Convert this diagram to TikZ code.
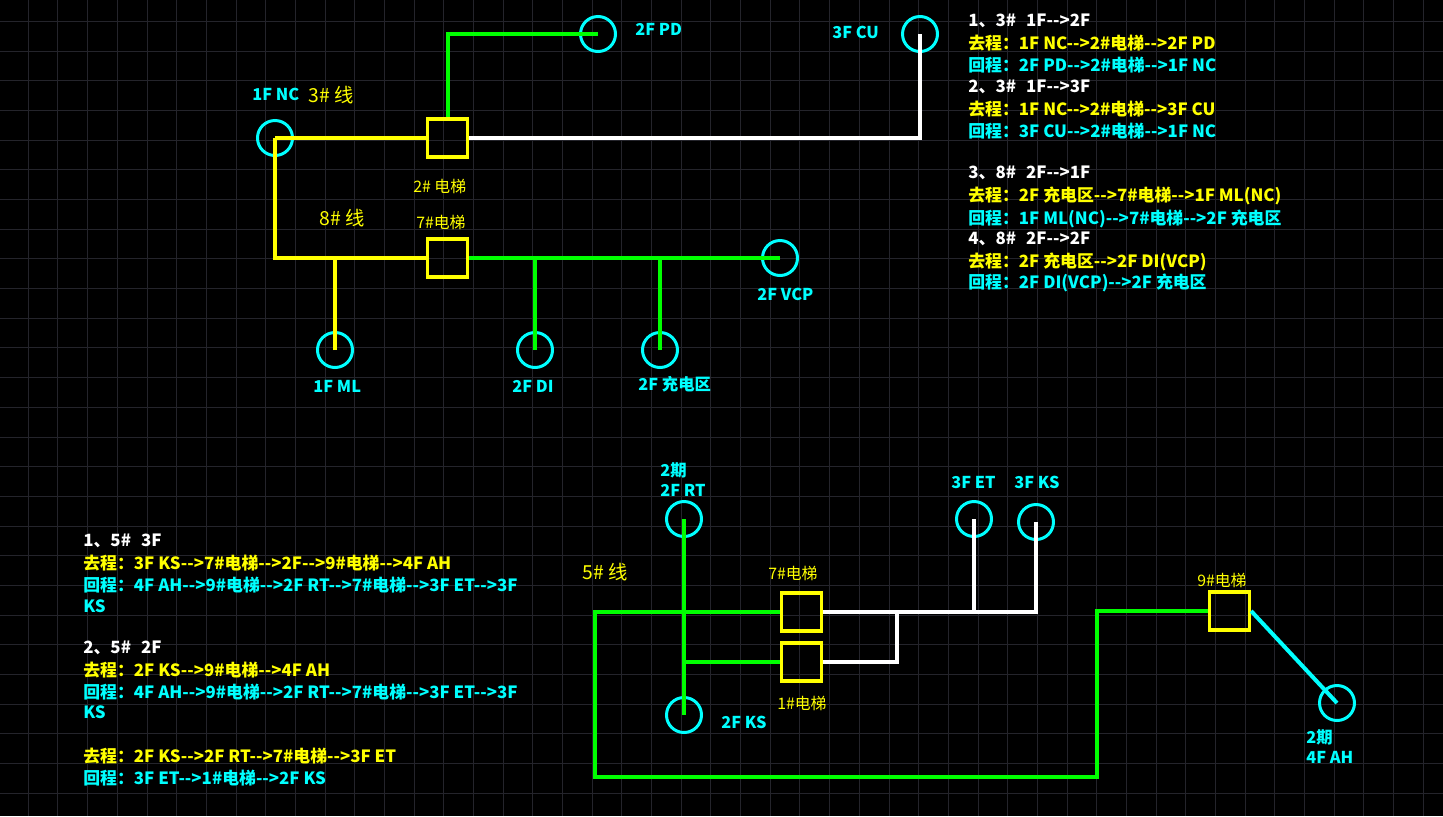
\documentclass[tikz,border=0pt]{standalone}
\usepackage{fontspec}
\setmainfont{Noto Sans CJK SC}
\usetikzlibrary{positioning, calc}
\definecolor{cyel}{HTML}{FFFF00}
\definecolor{ccyan}{HTML}{00FFFF}
\definecolor{cgreen}{HTML}{00FF00}
\definecolor{cwhite}{HTML}{FFFFFF}
\definecolor{cgrid}{HTML}{24242B}

\begin{document}
\begin{tikzpicture}[
    x=0.2mm, y=-0.2mm,
    station/.style={
        circle, draw=ccyan, line width=0.6mm, minimum size=7mm, inner sep=0pt
    },
    lift/.style={
        rectangle, draw=cyel, line width=0.65mm, minimum width=8mm,
        minimum height=7.6mm, inner sep=0pt
    },
    wire/.style={line width=0.8mm},
    tag/.style={font=\fontsize{9.3pt}{11pt}\selectfont\bfseries, text=ccyan,
        anchor=base west, inner sep=0pt},
    liftname/.style={font=\fontsize{9pt}{11pt}\selectfont, text=cyel,
        anchor=base west, inner sep=0pt},
    linename/.style={font=\fontsize{11pt}{13pt}\selectfont, text=cyel,
        anchor=base west, inner sep=0pt},
    route/.style={font=\fontsize{9.6pt}{11pt}\selectfont\bfseries,
        anchor=base west, inner sep=0pt}
]
\useasboundingbox (0,0) rectangle (1443,816);
\fill[black] (0,0) rectangle (1443,816);
\foreach \i in {0,...,47}
  \draw[cgrid, line width=0.2mm] ({28.3+29.68*\i},0) -- ({28.3+29.68*\i},816);
\foreach \j in {0,...,26}
  \draw[cgrid, line width=0.2mm] (0,{21.5+29.68*\j}) -- (1443,{21.5+29.68*\j});

% 3# / 8# lines
\node[station] (stnc)  at (275,138) {};
\node[station] (stpd)  at (598,34)  {};
\node[station] (stcu)  at (920,34)  {};
\node[station] (stvcp) at (780,258) {};
\node[station] (stml)  at (335,350) {};
\node[station] (stdi)  at (535,350) {};
\node[station] (stchg) at (660,350) {};
\node[lift] (lift2) at (447.5,138) {};
\node[lift] (lift7) at (447.5,258) {};

\draw[wire, cyel] (stnc.center) -- (lift2.west);
\draw[wire, cyel] (stnc.center) |- (lift7.west);
\draw[wire, cyel] (stml.center) -- (stml.center |- lift7.west);
\draw[wire, cgreen] (lift2.north) |- (stpd.center);
\draw[wire, cwhite] (lift2.east) -| (stcu.center);
\draw[wire, cgreen] (lift7.east) -- (stvcp.center);
\foreach \s in {stdi, stchg}
  \draw[wire, cgreen] (\s.center) -- (\s.center |- lift7.east);

\node[tag]      (tnc)  at (252,100) {1F NC};
\node[linename] (ln3)  at (308,102) {3\# 线};
\node[liftname] (tl2)  at (413,192) {2\# 电梯};
\node[linename] (ln8)  at (319,225) {8\# 线};
\node[liftname] (tl7)  at (416,228) {7\#电梯};
\node[tag]      (tpd)  at (635,35)  {2F PD};
\node[tag]      (tcu)  at (832,38)  {3F CU};
\node[tag]      (tvcp) at (757,300) {2F VCP};
\node[tag]      (tml)  at (313,392) {1F ML};
\node[tag]      (tdi)  at (512,392) {2F DI};
\node[tag]      (tchg) at (638,390) {2F 充电区};

% 5# line
\node[station] (strt)  at (684,519)  {};
\node[station] (stks2) at (684,715)  {};
\node[station] (stet)  at (974,519)  {};
\node[station] (stks3) at (1036,522) {};
\node[station] (stah)  at (1337,703) {};
\node[lift] (lift7b) at (801.5,612)  {};
\node[lift] (lift1)  at (801.5,662)  {};
\node[lift] (lift9)  at (1229.5,611) {};
\coordinate (loopl) at (595,777);
\coordinate (loopr) at (1097,777);
\coordinate (wjoin) at (897,612);

\draw[wire, cgreen] (strt.center) -- (stks2.center);
\draw[wire, cgreen] (lift7b.west) -| (loopl) -- (loopr) |- (lift9.west);
\draw[wire, cgreen] (strt.center |- lift1.west) -- (lift1.west);
\draw[wire, cwhite] (lift7b.east) -| (stks3.center);
\draw[wire, cwhite] (stet.center) -- (stet.center |- lift7b.east);
\draw[wire, cwhite] (lift1.east) -| (wjoin);
\draw[wire, ccyan] (lift9.east) -- (stah.center);

\node[tag]      (trt1) at (660,476)  {2期};
\node[tag]      (trt2) at (660,496)  {2F RT};
\node[linename] (ln5)  at (582,579)  {5\# 线};
\node[liftname] (tl7b) at (768,579)  {7\#电梯};
\node[liftname] (tl1)  at (777,709)  {1\#电梯};
\node[tag]      (tks2) at (721,728)  {2F KS};
\node[tag]      (tet)  at (951,488)  {3F ET};
\node[tag]      (tks3) at (1014,488) {3F KS};
\node[liftname] (tl9)  at (1197,586) {9\#电梯};
\node[tag]      (tah1) at (1306,743) {2期};
\node[tag]      (tah2) at (1306,763) {4F AH};

% route notes
\foreach \yb/\cl/\tx [count=\k] in {
    26/cwhite/{1、3\#\hspace{0.6em}1F-{}->2F},
    49/cyel/{去程：1F NC-{}->2\#电梯-{}->2F PD},
    71/ccyan/{回程：2F PD-{}->2\#电梯-{}->1F NC},
    92/cwhite/{2、3\#\hspace{0.6em}1F-{}->3F},
    115/cyel/{去程：1F NC-{}->2\#电梯-{}->3F CU},
    137/ccyan/{回程：3F CU-{}->2\#电梯-{}->1F NC},
    178/cwhite/{3、8\#\hspace{0.6em}2F-{}->1F},
    201/cyel/{去程：2F 充电区-{}->7\#电梯-{}->1F ML(NC)},
    224/ccyan/{回程：1F ML(NC)-{}->7\#电梯-{}->2F 充电区},
    244/cwhite/{4、8\#\hspace{0.6em}2F-{}->2F},
    267/cyel/{去程：2F 充电区-{}->2F DI(VCP)},
    288/ccyan/{回程：2F DI(VCP)-{}->2F 充电区}}
  \node[route, text=\cl] (ra\k) at (968,\yb) {\tx};

\foreach \yb/\cl/\tx [count=\k] in {
    546/cwhite/{1、5\#\hspace{0.6em}3F},
    569/cyel/{去程：3F KS-{}->7\#电梯-{}->2F-{}->9\#电梯-{}->4F AH},
    591/ccyan/{回程：4F AH-{}->9\#电梯-{}->2F RT-{}->7\#电梯-{}->3F ET-{}->3F},
    612/ccyan/{KS},
    653/cwhite/{2、5\#\hspace{0.6em}2F},
    676/cyel/{去程：2F KS-{}->9\#电梯-{}->4F AH},
    698/ccyan/{回程：4F AH-{}->9\#电梯-{}->2F RT-{}->7\#电梯-{}->3F ET-{}->3F},
    718/ccyan/{KS},
    762/cyel/{去程：2F KS-{}->2F RT-{}->7\#电梯-{}->3F ET},
    784/ccyan/{回程：3F ET-{}->1\#电梯-{}->2F KS}}
  \node[route, text=\cl] (rb\k) at (83,\yb) {\tx};
\end{tikzpicture}
\end{document}
